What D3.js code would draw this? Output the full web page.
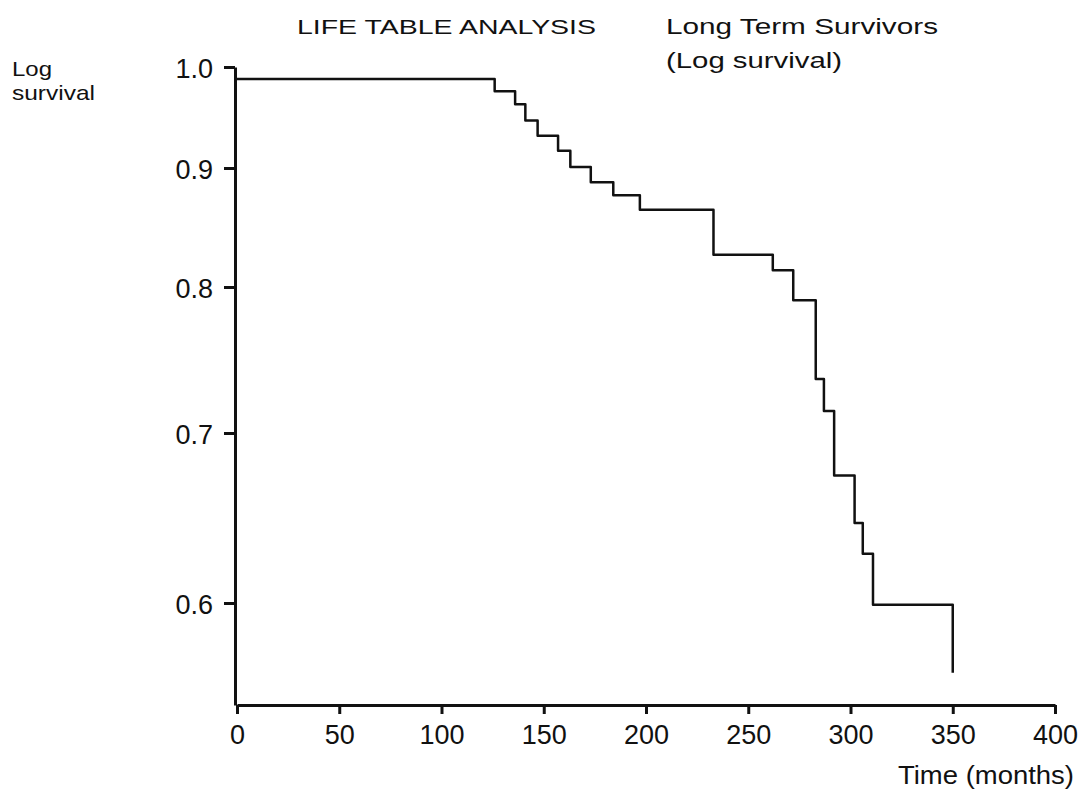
<!DOCTYPE html>
<html>
<head>
<meta charset="utf-8">
<script src="https://cdn.jsdelivr.net/npm/d3@7"></script>
<style>
  body { margin: 0; background: #fff; }
  text { font-family: "Liberation Sans", Arial, Helvetica, sans-serif; fill: #111; }
</style>
</head>
<body>
<div id="chart"></div>
<script>
// time (months) where each step of the life table starts
var stepTimes = [0, 126, 136, 141, 147, 157, 163, 173, 184, 197, 233, 262, 272, 283, 287, 292, 302, 306, 311, 350];
// survival from that time on
var stepSurvival = [0.988, 0.976, 0.963, 0.947, 0.932, 0.917, 0.901, 0.888, 0.877, 0.865, 0.827, 0.814, 0.791, 0.737, 0.715, 0.675, 0.647, 0.629, 0.599, 0.559];

var xTicks = [0, 50, 100, 150, 200, 250, 300, 350, 400];
var yTicks = [1.0, 0.9, 0.8, 0.7, 0.6];
// the printed axis is not evenly spaced, so calibrate it tick by tick
var yCalib = [1.0, 0.9, 0.8, 0.7, 0.6, 0.54];

var width = 1084, height = 796;

var svg = d3.select("#chart")
    .append("svg")
    .attr("width", width)
    .attr("height", height);

var x = d3.scaleLinear()
    .domain([0, 400])
    .range([237, 1055]);

var y = d3.scaleLinear()
    .domain(yCalib)
    .range([67, 168, 287, 433, 603, 705]);

var baseY = y(yCalib[yCalib.length - 1]);

// x axis
var xAxis = svg.append("g")
    .attr("transform", "translate(0," + baseY + ")")
    .call(d3.axisBottom(x).tickValues(xTicks).tickSize(9).tickSizeOuter(0).tickFormat(d3.format("d")));

// y axis
var yAxis = svg.append("g")
    .attr("transform", "translate(" + (x(0) - 2) + ",0)")
    .call(d3.axisLeft(y).tickValues(yTicks).tickSize(11).tickSizeOuter(0).tickFormat(d3.format(".1f")));

[xAxis, yAxis].forEach(function (ax) {
    ax.select(".domain").attr("stroke", "#111").attr("stroke-width", 3);
    ax.selectAll(".tick line").attr("stroke", "#111").attr("stroke-width", 3);
    ax.selectAll(".tick text")
        .attr("fill", "#111")
        .style("font-size", "27px")
        .style("font-family", "'Liberation Sans', Arial, sans-serif");
});
xAxis.selectAll(".tick text").attr("y", 20).attr("dy", "0.71em");
yAxis.selectAll(".tick text").attr("x", -22).attr("dy", "0.4em");

// survival step curve
var pts = stepTimes.map(function (t, i) { return [t, stepSurvival[i]]; });
var line = d3.line()
    .x(function (d) { return x(d[0]); })
    .y(function (d) { return y(d[1]); })
    .curve(d3.curveStepAfter);

svg.append("path")
    .datum(pts)
    .attr("d", line)
    .attr("fill", "none")
    .attr("stroke", "#111")
    .attr("stroke-width", 2.5)
    .attr("stroke-linejoin", "round");

// titles (the printed font is wide, so stretch the glyphs a little)
svg.append("text")
    .attr("x", 297)
    .attr("y", 34)
    .attr("textLength", 299)
    .attr("lengthAdjust", "spacingAndGlyphs")
    .style("font-size", "21px")
    .text("LIFE TABLE ANALYSIS");

svg.append("text")
    .attr("x", 666)
    .attr("y", 34)
    .attr("textLength", 272)
    .attr("lengthAdjust", "spacingAndGlyphs")
    .style("font-size", "22px")
    .text("Long Term Survivors");

svg.append("text")
    .attr("x", 666)
    .attr("y", 68)
    .attr("textLength", 176)
    .attr("lengthAdjust", "spacingAndGlyphs")
    .style("font-size", "22px")
    .text("(Log survival)");

// y axis label, two lines
svg.append("text")
    .attr("x", 12)
    .attr("y", 76)
    .attr("textLength", 40)
    .attr("lengthAdjust", "spacingAndGlyphs")
    .style("font-size", "21px")
    .text("Log");
svg.append("text")
    .attr("x", 12)
    .attr("y", 100)
    .attr("textLength", 83)
    .attr("lengthAdjust", "spacingAndGlyphs")
    .style("font-size", "21px")
    .text("survival");

// x axis label
svg.append("text")
    .attr("x", 898)
    .attr("y", 784)
    .attr("textLength", 176)
    .attr("lengthAdjust", "spacingAndGlyphs")
    .style("font-size", "25px")
    .text("Time (months)");
</script>
</body>
</html>
